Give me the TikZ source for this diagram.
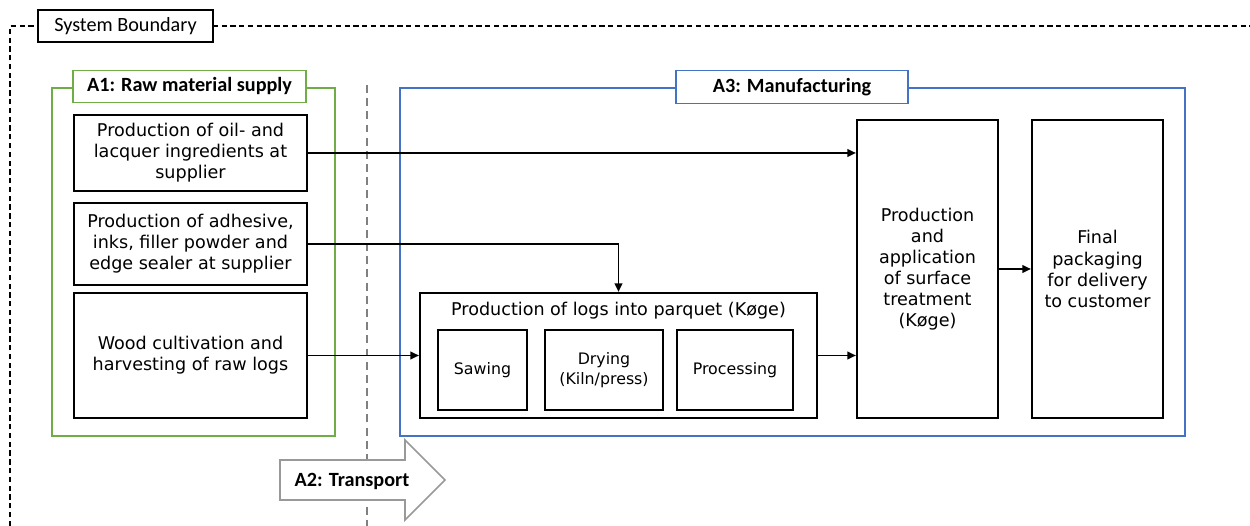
\documentclass[tikz,border=0pt]{standalone}
\usepackage{fontspec}
\setmainfont{DejaVu Sans}
\newfontfamily\calibri{Carlito}
\usetikzlibrary{arrows.meta}
\definecolor{a1green}{RGB}{112,173,71}
\definecolor{a3blue}{RGB}{68,114,196}
\tikzset{
  proc/.style ={draw,line width=1.2pt,align=center,inner sep=2pt,font=\fontsize{10}{12}\selectfont},
  sub/.style  ={draw,line width=0.9pt,align=center,minimum height=1.6cm,font=\fontsize{9}{11}\selectfont},
  stage/.style={draw,line width=0.7pt},
  tag/.style  ={draw,fill=white,line width=0.7pt,minimum height=0.65cm,inner sep=0pt,font=\calibri\bfseries\fontsize{11.5}{13}\selectfont},
  flow/.style ={line width=1.1pt,-{Triangle[length=1.7mm,width=1.5mm]}},
}

\begin{document}
\begin{tikzpicture}[x=0.02cm,y=-0.02cm]
  \useasboundingbox (0,0) rectangle (1250,526);
  % system boundary
  \draw[dash pattern=on 3pt off 2pt,line width=0.6pt] (10,526) -- (10,26) -- (1250,26);
  \node[draw,fill=white,line width=0.7pt,minimum width=3.5cm,minimum height=0.64cm,inner sep=0pt,
        font=\calibri\fontsize{11.5}{13}\selectfont] (sb) at (125.5,26) {System Boundary};
  % transport divider
  \draw[gray,line width=1pt,dash pattern=on 4.5pt off 3pt] (367,85) -- (367,526);

  % stages
  \node[stage,draw=a1green,minimum width=5.66cm,minimum height=6.96cm] (a1) at (193.5,262) {};
  \node[tag,draw=a1green,minimum width=4.66cm] (a1tag) at (189.5,86.5) {A1: Raw material supply};
  \node[stage,draw=a3blue,minimum width=15.7cm,minimum height=6.96cm] (a3) at (792.5,262) {};
  \node[tag,draw=a3blue,minimum width=4.64cm] (a3tag) at (792,87) {A3: Manufacturing};

  % supply
  \node[proc,minimum width=4.66cm,minimum height=1.52cm] (oil) at (190.5,153) {Production of oil- and\\lacquer ingredients at\\supplier};
  \node[proc,minimum width=4.66cm,minimum height=1.64cm] (glue) at (190.5,244) {Production of adhesive,\\inks, filler powder and\\edge sealer at supplier};
  \node[proc,minimum width=4.66cm,minimum height=2.5cm] (wood) at (190.5,355.5) {Wood cultivation and\\harvesting of raw logs};

  % parquet line
  \node[proc,minimum width=7.94cm,minimum height=2.5cm] (parquet) at (618.5,355.5) {};
  \node[font=\fontsize{10}{12}\selectfont] (ptitle) at (618.5,311) {Production of logs into parquet (Køge)};
  \node[sub,minimum width=1.78cm] (saw) at (482.5,370) {Sawing};
  \node[sub,minimum width=2.36cm] (dry) at (604,370) {Drying\\(Kiln/press)};
  \node[sub,minimum width=2.32cm] (mill) at (735,370) {Processing};

  \node[proc,minimum width=2.82cm,minimum height=5.96cm] (surf) at (927.5,269) {Production\\and\\application\\of surface\\treatment\\(Køge)};
  \node[proc,minimum width=2.62cm,minimum height=5.96cm] (pack) at (1097.5,269) {Final\\packaging\\for delivery\\to customer};

  % flows
  \draw[flow] (oil.east) -- (oil.east -| surf.west);
  \draw[flow] (glue.east) -| (parquet.north);
  \draw[flow] (wood.east) -- (parquet.west);
  \draw[flow] (parquet.east) -- (surf.west |- parquet.east);
  \draw[flow] (surf.east) -- (pack.west);

  % transport arrow
  \draw[gray!80,line width=0.9pt,fill=white] (280,460) -- (405,460) -- (405,440) -- (445,480)
    -- (405,520) -- (405,500) -- (280,500) -- cycle;
  \node[font=\calibri\bfseries\fontsize{11.5}{13}\selectfont] (a2) at (352,481) {A2: Transport};
\end{tikzpicture}
\end{document}
